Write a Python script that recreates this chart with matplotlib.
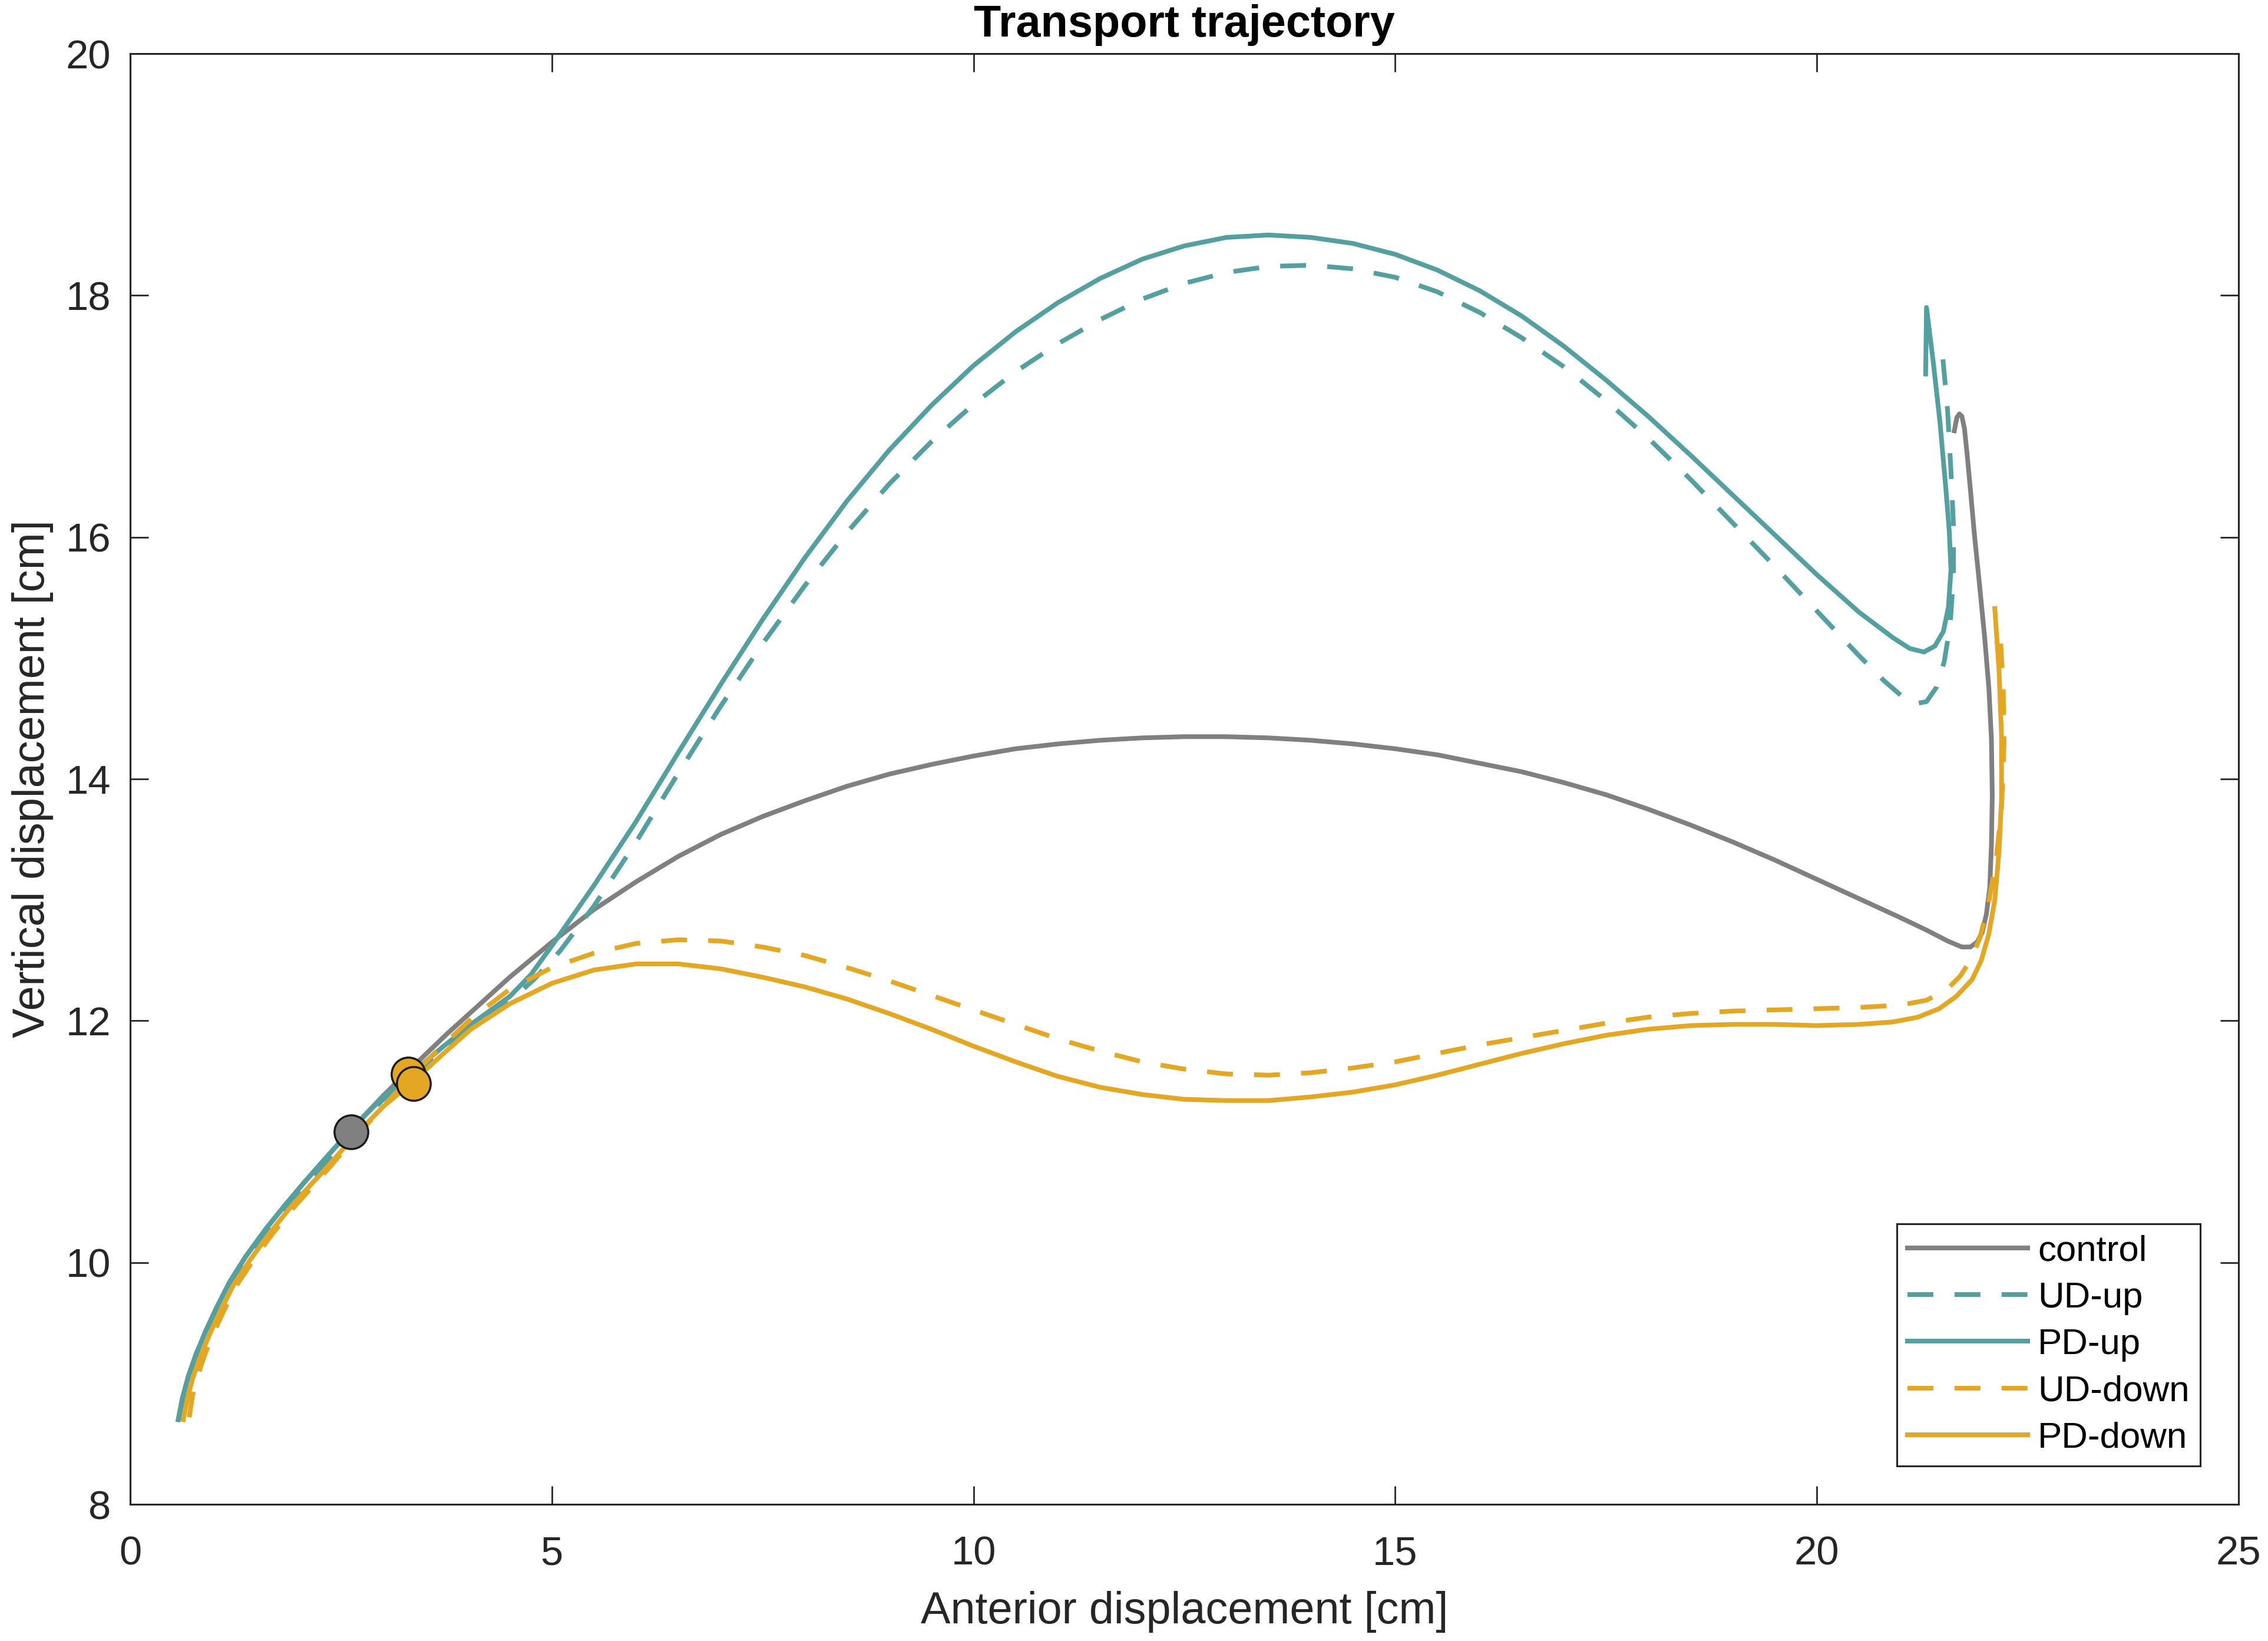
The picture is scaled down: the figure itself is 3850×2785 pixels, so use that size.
import matplotlib
matplotlib.use("Agg")
import matplotlib.pyplot as plt
import numpy as np

plt.rcParams['font.family'] = ['Liberation Sans', 'DejaVu Sans']

# Trajectories (anterior x, vertical y, in cm)
control_x = [0.57, 0.62, 0.69, 0.78, 0.90, 1.02, 1.18, 1.37, 1.60, 1.83, 2.06, 2.30, 2.62,
             3.00, 3.44, 3.77, 4.04,
             4.50, 5.00, 5.50, 6.00, 6.50, 7.00, 7.50, 8.00, 8.50, 9.00, 9.50, 10.00,
             10.50, 11.00, 11.50, 12.00, 12.50, 13.00, 13.50, 14.00, 14.50, 15.00, 15.50,
             16.00, 16.50, 17.00, 17.50, 18.00, 18.50, 19.00, 19.50, 20.00, 20.50, 21.00,
             21.30, 21.55, 21.72, 21.82, 21.90, 21.96, 22.01, 22.05, 22.07, 22.08, 22.07,
             22.04, 21.99, 21.93, 21.87, 21.82, 21.78, 21.75, 21.72, 21.69, 21.66, 21.63]
control_y = [8.70, 8.88, 9.06, 9.24, 9.44, 9.62, 9.84, 10.05, 10.27, 10.47, 10.66, 10.85, 11.10,
             11.38, 11.68, 11.90, 12.07,
             12.36, 12.65, 12.92, 13.15, 13.36, 13.54, 13.69, 13.82, 13.94, 14.04, 14.12, 14.19,
             14.25, 14.29, 14.32, 14.34, 14.35, 14.35, 14.34, 14.32, 14.29, 14.25, 14.20,
             14.13, 14.06, 13.97, 13.87, 13.75, 13.62, 13.48, 13.33, 13.17, 13.01, 12.85,
             12.75, 12.66, 12.61, 12.61, 12.65, 12.73, 12.88, 13.10, 13.45, 13.86, 14.33,
             14.75, 15.17, 15.60, 16.01, 16.40, 16.70, 16.90, 17.00, 17.02, 16.99, 16.88]

ud_up_x = [0.60, 0.65, 0.72, 0.81, 0.93, 1.05, 1.21, 1.40, 1.63, 1.86, 2.09, 2.33, 2.62,
           3.00, 3.33, 3.70, 4.04, 4.50, 4.80, 5.10,
           5.50, 6.00, 6.50, 7.00, 7.50, 8.00, 8.50, 9.00, 9.50, 10.00, 10.50, 11.00,
           11.50, 12.00, 12.50, 13.00, 13.50, 14.00, 14.50, 15.00, 15.50, 16.00, 16.50,
           17.00, 17.50, 18.00, 18.50, 19.00, 19.50, 20.00, 20.50,
           20.80, 21.00, 21.15, 21.30, 21.42, 21.51, 21.58, 21.62, 21.62, 21.59, 21.55, 21.49]
ud_up_y = [8.70, 8.88, 9.06, 9.24, 9.44, 9.62, 9.84, 10.04, 10.26, 10.46, 10.65, 10.84, 11.08,
           11.35, 11.54, 11.76, 11.94, 12.16, 12.35, 12.58,
           12.95, 13.48, 14.05, 14.60, 15.12, 15.60, 16.04, 16.44, 16.79, 17.10, 17.37, 17.60,
           17.80, 17.97, 18.10, 18.19, 18.24, 18.25, 18.22, 18.15, 18.03, 17.86, 17.65,
           17.41, 17.13, 16.82, 16.48, 16.12, 15.76, 15.39, 15.02,
           14.81, 14.69, 14.62, 14.64, 14.76, 14.97, 15.27, 15.68, 16.10, 16.55, 17.05, 17.51]

pd_up_x = [0.57, 0.62, 0.69, 0.78, 0.90, 1.02, 1.18, 1.37, 1.60, 1.83, 2.06, 2.30, 2.62,
           3.00, 3.33, 3.70, 4.04, 4.50, 4.75, 5.00, 5.25, 5.50,
           6.00, 6.50, 7.00, 7.50, 8.00, 8.50, 9.00, 9.50, 10.00, 10.50, 11.00, 11.50,
           12.00, 12.50, 13.00, 13.50, 14.00, 14.50, 15.00, 15.50, 16.00, 16.50, 17.00,
           17.50, 18.00, 18.50, 19.00, 19.50, 20.00, 20.50,
           20.90, 21.10, 21.27, 21.40, 21.50, 21.56, 21.59, 21.57, 21.53, 21.46, 21.38,
           21.30, 21.29]
pd_up_y = [8.70, 8.88, 9.06, 9.24, 9.44, 9.62, 9.84, 10.05, 10.27, 10.47, 10.66, 10.85, 11.10,
           11.37, 11.56, 11.78, 11.97, 12.20, 12.38, 12.62, 12.87, 13.12,
           13.65, 14.22, 14.78, 15.32, 15.83, 16.30, 16.72, 17.09, 17.42, 17.70, 17.94, 18.14,
           18.30, 18.41, 18.48, 18.50, 18.48, 18.43, 18.34, 18.21, 18.04, 17.83, 17.58,
           17.30, 17.00, 16.68, 16.35, 16.02, 15.69, 15.38,
           15.17, 15.08, 15.05, 15.10, 15.22, 15.42, 15.73, 16.05, 16.40, 16.95, 17.45,
           17.90, 17.35]

ud_down_x = [0.70, 0.74, 0.80, 0.88, 0.99, 1.11, 1.27, 1.46, 1.69, 1.92, 2.15, 2.38, 2.66,
             3.00, 3.30, 3.65, 4.05,
             4.50, 5.00, 5.50, 6.00, 6.50, 7.00, 7.50, 8.00,
             8.50, 9.00, 9.50, 10.00, 10.50, 11.00, 11.50, 12.00, 12.50, 13.00, 13.50,
             14.00, 14.50, 15.00, 15.50, 16.00, 16.50, 17.00, 17.50, 18.00, 18.50, 19.00,
             19.50, 20.00, 20.50,
             21.00, 21.30, 21.53, 21.70, 21.83, 21.93, 22.03, 22.12, 22.19, 22.22, 22.21, 22.18]
ud_down_y = [8.72, 8.90, 9.06, 9.23, 9.42, 9.60, 9.82, 10.02, 10.24, 10.44, 10.62, 10.80, 11.03,
             11.29, 11.52, 11.76, 12.02,
             12.26, 12.44, 12.56, 12.64, 12.67, 12.66, 12.61, 12.54,
             12.44, 12.33, 12.21, 12.09, 11.97, 11.85, 11.75, 11.66, 11.60, 11.56, 11.55,
             11.57, 11.61, 11.66, 11.73, 11.80, 11.86, 11.92, 11.98, 12.03, 12.06, 12.08,
             12.09, 12.10, 12.11,
             12.13, 12.17, 12.25, 12.37, 12.51, 12.68, 12.95, 13.30, 13.75, 14.30, 14.75, 15.12]

pd_down_x = [0.63, 0.68, 0.74, 0.83, 0.95, 1.07, 1.23, 1.42, 1.65, 1.88, 2.11, 2.35, 2.65,
             3.00, 3.36, 3.70, 4.04,
             4.50, 5.00, 5.50, 6.00, 6.50, 7.00, 7.50, 8.00, 8.50, 9.00, 9.50, 10.00,
             10.50, 11.00, 11.50, 12.00, 12.50, 13.00, 13.50, 14.00, 14.50, 15.00, 15.50,
             16.00, 16.50, 17.00, 17.50, 18.00, 18.50, 19.00, 19.50, 20.00, 20.50,
             20.90, 21.20, 21.45, 21.65, 21.84, 21.95, 22.04, 22.11, 22.16, 22.19, 22.19,
             22.16, 22.11]
pd_down_y = [8.70, 8.88, 9.04, 9.22, 9.42, 9.60, 9.82, 10.02, 10.24, 10.44, 10.62, 10.80, 11.04,
             11.29, 11.50, 11.72, 11.93,
             12.14, 12.31, 12.42, 12.47, 12.47, 12.43, 12.36, 12.28, 12.18, 12.06, 11.93, 11.79,
             11.66, 11.54, 11.45, 11.39, 11.35, 11.34, 11.34, 11.37, 11.41, 11.47, 11.55,
             11.64, 11.73, 11.81, 11.88, 11.93, 11.96, 11.97, 11.97, 11.96, 11.97,
             11.99, 12.03, 12.10, 12.20, 12.34, 12.50, 12.72, 13.00, 13.40, 13.84, 14.35,
             14.90, 15.41]

# event markers (control, UD-down, PD-down)
marker_x = [2.62, 3.30, 3.36]
marker_y = [11.08, 11.56, 11.48]

gray = '#808080'
teal = '#54A0A0'
gold = '#E3A724'
marker_colors = [gray, gold, gold]

fig = plt.figure(figsize=(15.4, 11.14), dpi=250)
ax = fig.add_axes([0.0574, 0.0833, 0.9296, 0.8840])

lw = 2.3
dash = (0, (5.5, 4.5))
style = dict(lw=lw, solid_joinstyle='round', dash_joinstyle='round')
ax.plot(control_x, control_y, color=gray, label='control', **style)
ax.plot(ud_up_x, ud_up_y, color=teal, linestyle=dash, label='UD-up', **style)
ax.plot(pd_up_x, pd_up_y, color=teal, label='PD-up', **style)
ax.plot(ud_down_x, ud_down_y, color=gold, linestyle=dash, label='UD-down', **style)
ax.plot(pd_down_x, pd_down_y, color=gold, label='PD-down', **style)

for mx, my, mc in zip(marker_x, marker_y, marker_colors):
    ax.plot(mx, my, 'o', ms=16.5, mfc=mc, mec='#1a1a1a', mew=1.0, zorder=5)

ax.set_xlim(0, 25)
ax.set_ylim(8, 20)
ax.set_xticks(np.arange(0, 26, 5))
ax.set_yticks(np.arange(8, 21, 2))

axis_col = '#262626'
for sp in ax.spines.values():
    sp.set_linewidth(0.9)
    sp.set_color(axis_col)
ax.tick_params(direction='in', length=9, width=0.8, top=True, right=True,
               colors=axis_col, labelsize=19.8)
ax.tick_params(axis='x', pad=15)
ax.tick_params(axis='y', pad=9.5)

ax.set_xlabel('Anterior displacement [cm]', fontsize=21.8, color=axis_col, labelpad=9)
ax.set_ylabel('Vertical displacement [cm]', fontsize=21.8, color=axis_col, labelpad=6)
ax.set_title('Transport trajectory', fontsize=21.8, fontweight='bold', pad=8.5)

leg = ax.legend(loc='lower right', fontsize=17.8, frameon=True, fancybox=False,
                framealpha=1, edgecolor=axis_col, borderpad=0.3, labelspacing=0.36,
                handlelength=3.3, handletextpad=0.27, borderaxespad=1.05)
leg.get_frame().set_linewidth(0.9)

fig.savefig('out.png', dpi=250)
